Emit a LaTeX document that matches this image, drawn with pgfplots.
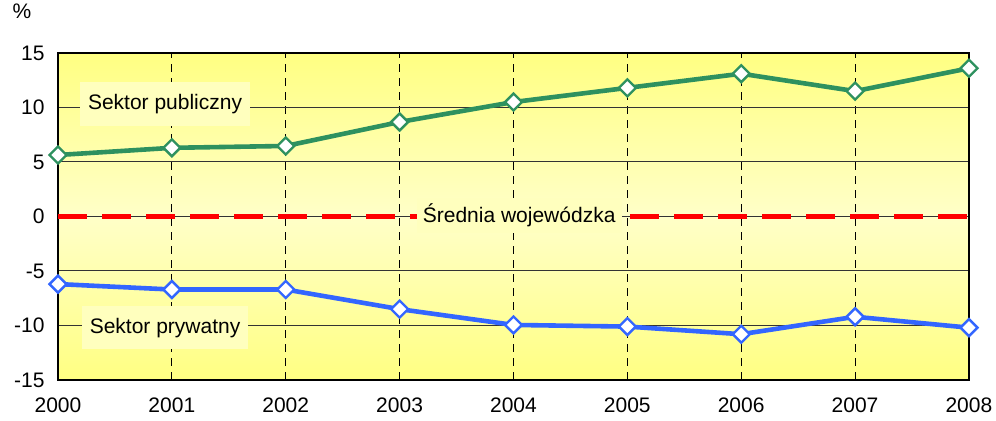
\documentclass[border=0pt]{standalone}
\usepackage{pgfplots}
\pgfplotsset{compat=1.18}
\usepackage{fontspec}
\setmainfont{Liberation Sans}
\definecolor{bgtop}{RGB}{255,255,130}
\definecolor{bgmid}{RGB}{255,255,200}
\definecolor{labelbg}{RGB}{255,255,190}
\definecolor{publ}{RGB}{46,145,95}
\definecolor{pryw}{RGB}{51,102,255}
\begin{document}
\fontsize{10.5}{12}\selectfont
\begin{tikzpicture}
\useasboundingbox (-29pt,-20.5pt) rectangle (469pt,190pt);
\begin{axis}[
    scale only axis,
    width=455.5pt, height=163.5pt,
    xmin=2000, xmax=2008,
    ymin=-15, ymax=15,
    xtick={2000,...,2008},
    ytick={-15,-10,...,15},
    /pgf/number format/.cd, 1000 sep={}, assume math mode=true,
    /pgfplots/.cd,
    tick style={draw=none},
    ticklabel style={font=\fontsize{10.5}{12}\selectfont},
    xticklabel style={yshift=-5pt},
    yticklabel style={xshift=-3pt},
    ymajorgrids, xmajorgrids,
    y grid style={black!80, line width=0.5pt},
    x grid style={black, line width=0.5pt, dash pattern=on 4pt off 3pt},
    axis line style={black, line width=0.6pt},
    axis background/.style={shade, top color=bgtop, bottom color=bgtop, middle color=bgmid},
    clip=false,
]
\addplot[red, line width=2.5pt, dash pattern=on 14.5pt off 7.5pt] coordinates {
    (2000,0) (2001,0) (2002,0) (2003,0) (2004,0) (2005,0) (2006,0) (2007,0) (2008,0)
};
\addplot[publ, line width=2.3pt, mark=square*, mark size=3pt,
    mark options={rotate=45, fill=white, line width=1.2pt}] coordinates {
    (2000,5.64) (2001,6.3) (2002,6.47) (2003,8.67) (2004,10.5)
    (2005,11.8) (2006,13.1) (2007,11.5) (2008,13.6)
};
\addplot[pryw, line width=2.3pt, mark=square*, mark size=3pt,
    mark options={rotate=45, fill=white, line width=1.2pt}] coordinates {
    (2000,-6.2) (2001,-6.7) (2002,-6.7) (2003,-8.5) (2004,-9.95)
    (2005,-10.1) (2006,-10.8) (2007,-9.2) (2008,-10.2)
};
\node[fill=labelbg, inner xsep=4pt, inner ysep=6pt] at (axis cs:2000.94,10.3) {Sektor publiczny};
\node[fill=labelbg, inner xsep=4pt, inner ysep=6pt] at (axis cs:2000.94,-10.2) {Sektor prywatny};
\node[fill=labelbg, inner xsep=3pt, inner ysep=3pt] at (axis cs:2004.05,0.1) {Średnia wojewódzka};
\node at (rel axis cs:0,1) [xshift=-18pt, yshift=21pt] {\%};
\end{axis}
\end{tikzpicture}
\end{document}
